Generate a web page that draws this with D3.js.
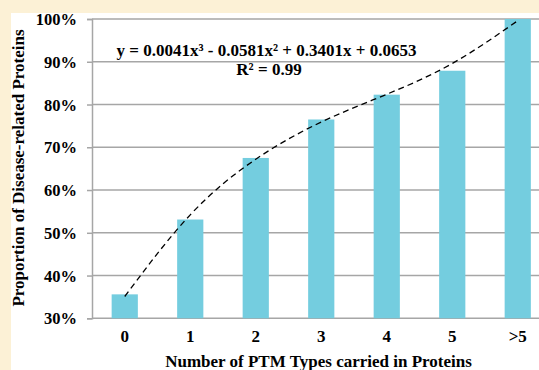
<!DOCTYPE html>
<meta charset="utf-8">
<style>
  body { margin: 0; background: #fcf1d6; }
  svg { display: block; }
  .lbl { font-family: "Liberation Serif", "Times New Roman", serif; font-weight: bold; fill: #000; }
</style>
<script src="https://d3js.org/d3.v7.min.js"></script>
<div id="chart"></div>
<script>
  // categories and values (percent)
  var categories = ["0", "1", "2", "3", "4", "5", ">5"];
  var proportions = [35.6, 53.1, 67.5, 76.5, 82.3, 87.9, 100];
  // dashed trendline, read at each category centre
  var trendValues = [35.1, 54.2, 67.2, 75.9, 82.4, 89.6, 99.6];
  var yTicks = [30, 40, 50, 60, 70, 80, 90, 100];

  var width = 539, height = 370;

  var svg = d3.select("#chart").append("svg")
    .attr("width", width)
    .attr("height", height);

  // white panel on cream background
  svg.append("rect")
    .attr("x", 11).attr("y", 13)
    .attr("width", width - 11).attr("height", height - 13)
    .attr("fill", "#fff");

  var x = d3.scaleBand()
    .domain(categories)
    .range([92, 550.5])
    .paddingInner(0.6)
    .paddingOuter(0.3);

  var y = d3.scaleLinear()
    .domain([30, 100])
    .range([318.3, 19]);

  // gridlines + ticks
  var yAxis = svg.append("g")
    .attr("transform", "translate(92,0)")
    .call(d3.axisLeft(y).tickValues(yTicks).tickSize(5).tickFormat(function(d) { return d + "%"; }));
  yAxis.select(".domain").attr("stroke", "#a6a6a6").attr("stroke-width", 1.5);
  yAxis.selectAll(".tick line").attr("stroke", "#a6a6a6").attr("stroke-width", 1.5);
  yAxis.selectAll(".tick text")
    .attr("class", "lbl")
    .attr("x", -15)
    .attr("dy", "0.34em")
    .style("font-size", "16.5px");

  svg.append("g").selectAll("line")
    .data(yTicks)
    .enter().append("line")
      .attr("x1", 92).attr("x2", width)
      .attr("y1", function(d) { return y(d); })
      .attr("y2", function(d) { return y(d); })
      .attr("stroke", "#a6a6a6")
      .attr("stroke-width", 1.5);

  // bars
  svg.append("g").selectAll("rect")
    .data(proportions)
    .enter().append("rect")
      .attr("x", function(d, i) { return x(categories[i]); })
      .attr("y", function(d) { return y(d); })
      .attr("width", x.bandwidth())
      .attr("height", function(d) { return y(30) - y(d); })
      .attr("fill", "#74cddf");

  // x labels
  var xAxis = svg.append("g")
    .attr("transform", "translate(0," + y(30) + ")")
    .call(d3.axisBottom(x).tickSize(0).tickPadding(12));
  xAxis.select(".domain").remove();
  xAxis.selectAll(".tick text")
    .attr("class", "lbl")
    .style("font-size", "17px");

  // trendline
  var line = d3.line()
    .x(function(d, i) { return x(categories[i]) + x.bandwidth() / 2; })
    .y(function(d) { return y(d); })
    .curve(d3.curveNatural);

  svg.append("path")
    .datum(trendValues)
    .attr("d", line)
    .attr("fill", "none")
    .attr("stroke", "#000")
    .attr("stroke-width", 1.3)
    .attr("stroke-dasharray", "6,4");

  // equation
  svg.append("text")
    .attr("class", "lbl")
    .attr("x", 266.5).attr("y", 56)
    .attr("text-anchor", "middle")
    .style("font-size", "17px")
    .text("y = 0.0041x³ - 0.0581x² + 0.3401x + 0.0653");

  svg.append("text")
    .attr("class", "lbl")
    .attr("x", 269).attr("y", 74.5)
    .attr("text-anchor", "middle")
    .style("font-size", "17px")
    .text("R² = 0.99");

  // axis titles
  svg.append("text")
    .attr("class", "lbl")
    .attr("transform", "translate(24,168) rotate(-90)")
    .attr("text-anchor", "middle")
    .style("font-size", "17px")
    .text("Proportion of Disease-related Proteins");

  svg.append("text")
    .attr("class", "lbl")
    .attr("x", 318.5).attr("y", 367)
    .attr("text-anchor", "middle")
    .style("font-size", "17px")
    .text("Number of PTM Types carried in Proteins");
</script>
